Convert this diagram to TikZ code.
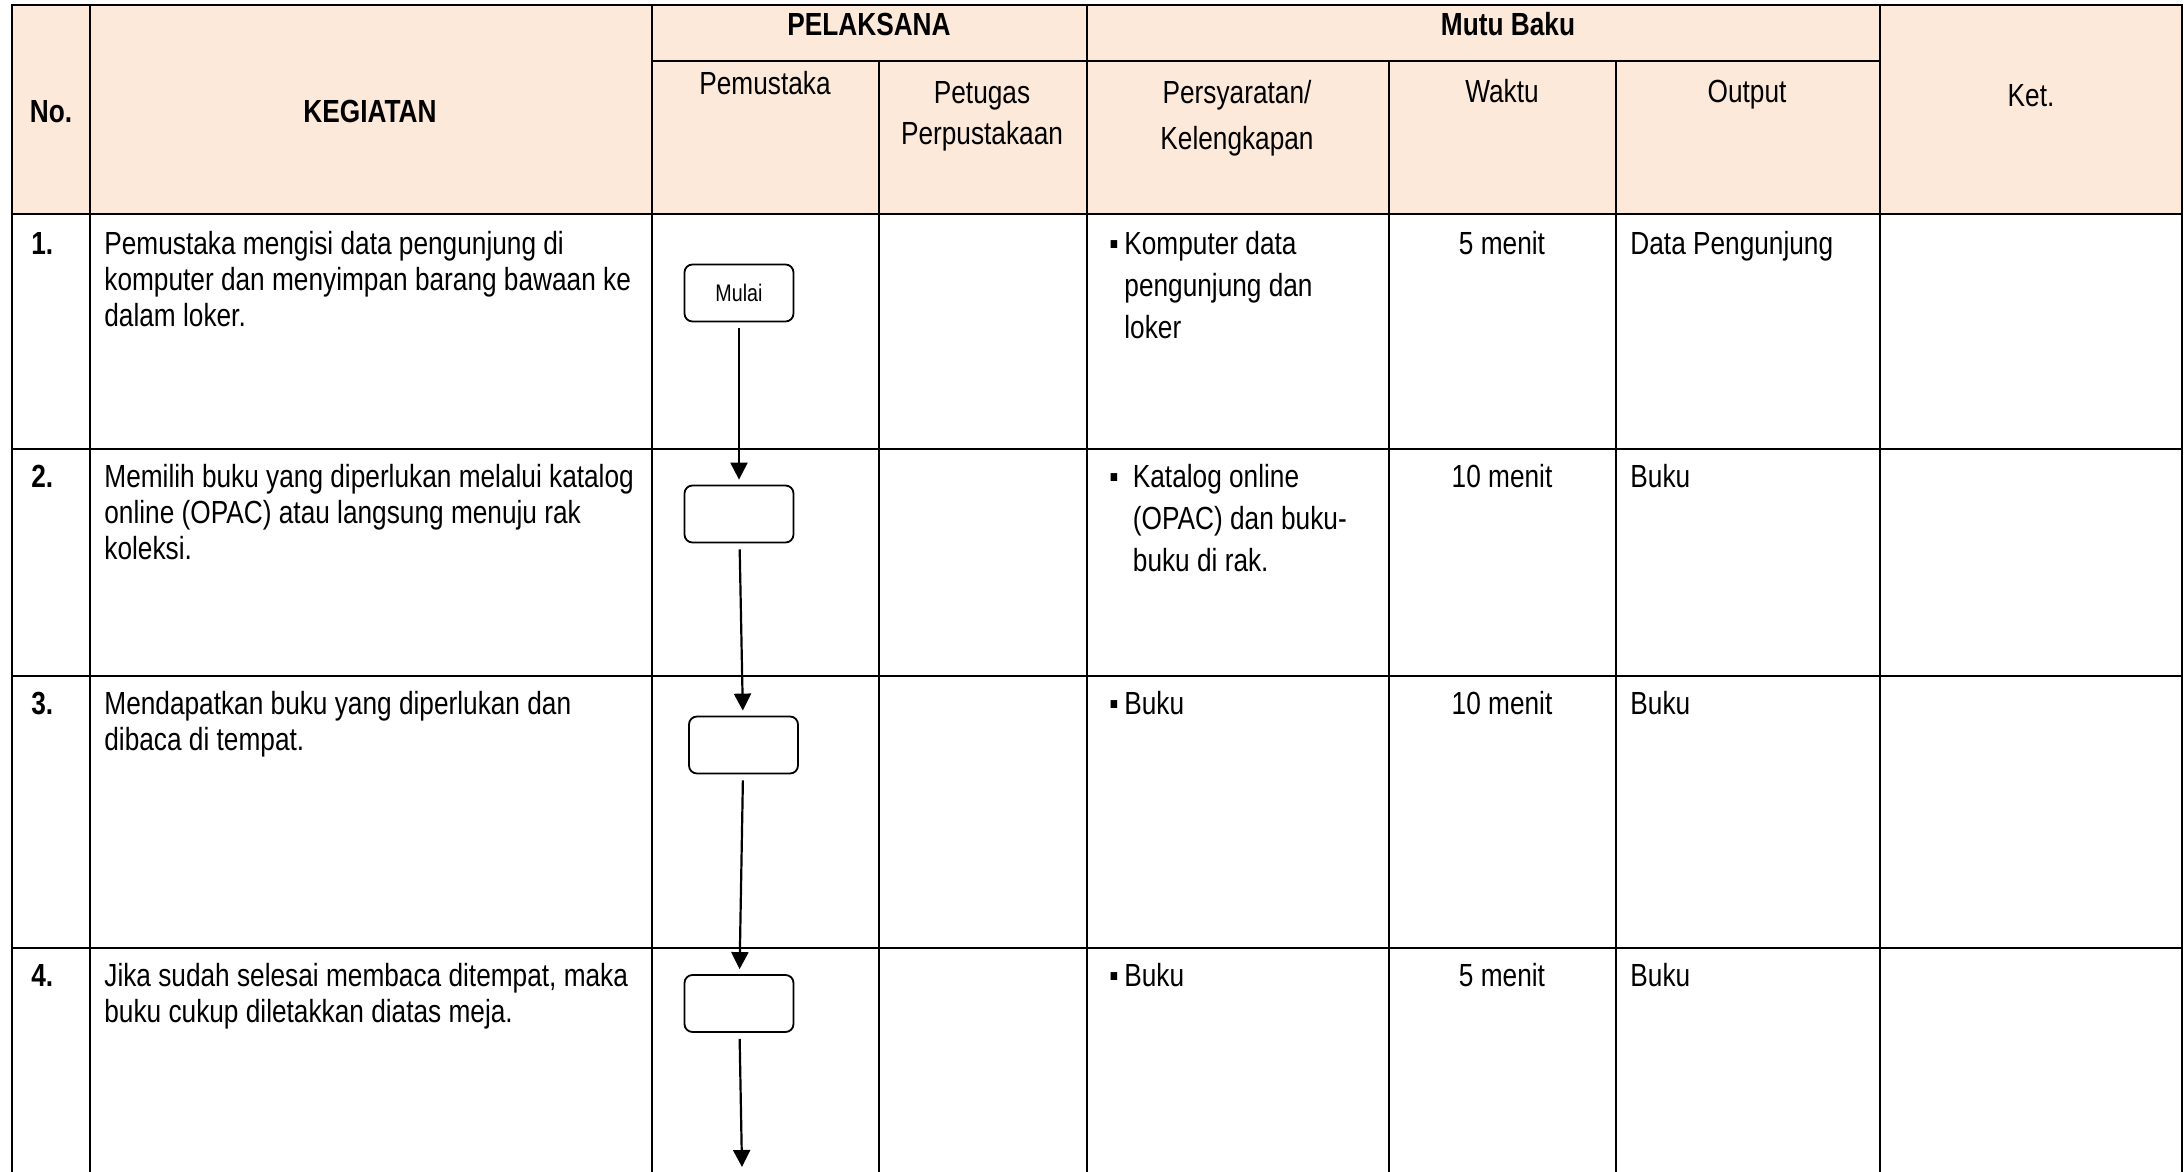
\documentclass[tikz,border=0pt]{standalone}
\usepackage{fontspec}
\setmainfont[FakeStretch=0.82]{Liberation Sans}
\usetikzlibrary{arrows.meta}
\definecolor{kepala}{HTML}{FDE9D9}
\tikzset{
	garis/.style={line width=1.4pt},
	judul/.style={font=\fontsize{16}{18}\bfseries, anchor=base, inner sep=0pt},
	kolom/.style={align=center, anchor=base, inner sep=0pt},
	isi/.style={align=left, anchor=base west, inner sep=0pt},
	syarat/.style={font=\fontsize{16}{21}\selectfont, anchor=base west, inner sep=0pt},
	kotak/.style={draw, rounded corners=4pt, line width=.9pt, minimum width=54.5pt, minimum height=28.5pt, inner sep=0pt, font=\fontsize{12}{14}\selectfont},
	alur/.style={->, line width=1.1pt, shorten <=3pt, shorten >=2.5pt}
}
\newcommand{\butir}[2][7.5pt]{\makebox[#1][l]{▪}\begin{tabular}[t]{@{}l@{}}#2\end{tabular}}

\begin{document}
\begin{tikzpicture}[x=.5pt, y=-.5pt, font=\fontsize{16}{18}\selectfont, >={Triangle[length=8.5pt,width=8.5pt]}]
			\useasboundingbox (0,0) rectangle (2184,1172);
			\fill[kepala] (12,5) rectangle (2182,214);
			\draw[garis] (12,1172) -- (12,5) -- (2182,5) -- (2182,1172);
			\draw[garis] (652,61) -- (1880,61);
			\draw[garis] (12,214) -- (2182,214);
			\draw[garis] (12,449) -- (2182,449);
			\draw[garis] (12,676) -- (2182,676);
			\draw[garis] (12,948) -- (2182,948);
			\draw[garis] (90,5) -- (90,1172);
			\draw[garis] (652,5) -- (652,1172);
			\draw[garis] (879,61) -- (879,1172);
			\draw[garis] (1087,5) -- (1087,1172);
			\draw[garis] (1389,61) -- (1389,1172);
			\draw[garis] (1616,61) -- (1616,1172);
			\draw[garis] (1880,5) -- (1880,1172);

			% multi-line nodes sit on the baseline of their last line
			\node[judul] (no) at (51,123) {No.};
			\node[judul] (kegiatan) at (370,123) {KEGIATAN};
			\node[judul] (pelaksana) at (869,36) {PELAKSANA};
			\node[judul] (mutubaku) at (1508,36) {Mutu Baku};
			\node[kolom] (pemustaka) at (765,95) {Pemustaka};
			\node[kolom] (petugas) at (982,144) {Petugas\\[2.25pt]Perpustakaan};
			\node[kolom] (persyaratan) at (1237,149) {Persyaratan/\\[5pt]Kelengkapan};
			\node[kolom] (waktu) at (1502,103) {Waktu};
			\node[kolom] (output) at (1747,103) {Output};
			\node[kolom] (ket) at (2031,106) {Ket.};

			\node[isi, font=\fontsize{16}{18}\bfseries] (n1) at (31,254) {1.};
			\node[isi, font=\fontsize{16}{18}\bfseries] (n2) at (31,487) {2.};
			\node[isi, font=\fontsize{16}{18}\bfseries] (n3) at (31,714) {3.};
			\node[isi, font=\fontsize{16}{18}\bfseries] (n4) at (31,986) {4.};
			\node[isi] (keg1) at (104,326) {Pemustaka mengisi data pengunjung di\\komputer dan menyimpan barang bawaan ke\\dalam loker.};
			\node[isi] (keg2) at (104,559) {Memilih buku yang diperlukan melalui katalog\\online (OPAC) atau langsung menuju rak\\koleksi.};
			\node[isi] (keg3) at (104,750) {Mendapatkan buku yang diperlukan dan\\dibaca di tempat.};
			\node[isi] (keg4) at (104,1022) {Jika sudah selesai membaca ditempat, maka\\buku cukup diletakkan diatas meja.};

			\node[syarat] (syarat1) at (1109,254) {\butir{Komputer data\\pengunjung dan\\loker}};
			\node[syarat] (syarat2) at (1109,487) {\butir[11.75pt]{Katalog online\\(OPAC) dan buku-\\buku di rak.}};
			\node[syarat] (syarat3) at (1109,714) {\butir{Buku}};
			\node[syarat] (syarat4) at (1109,986) {\butir{Buku}};

			\node[kolom] (waktu1) at (1502,254) {5 menit};
			\node[kolom] (waktu2) at (1502,487) {10 menit};
			\node[kolom] (waktu3) at (1502,714) {10 menit};
			\node[kolom] (waktu4) at (1502,986) {5 menit};
			\node[isi] (out1) at (1630,254) {Data Pengunjung};
			\node[isi] (out2) at (1630,487) {Buku};
			\node[isi] (out3) at (1630,714) {Buku};
			\node[isi] (out4) at (1630,986) {Buku};

			\node[kotak] (mulai) at (739,293) {Mulai};
			\node[kotak] (k2) at (739,514) {};
			\node[kotak] (k3) at (743.5,745) {};
			\node[kotak] (k4) at (739,1003.5) {};
			\coordinate (akhir) at (742,1167);
			\draw[alur] (mulai) -- (k2);
			\draw[alur] (k2) -- (k3);
			\draw[alur] (k3) -- (k4);
			\draw[alur, shorten >=0pt] (k4) -- (akhir);
		\end{tikzpicture}
\end{document}
